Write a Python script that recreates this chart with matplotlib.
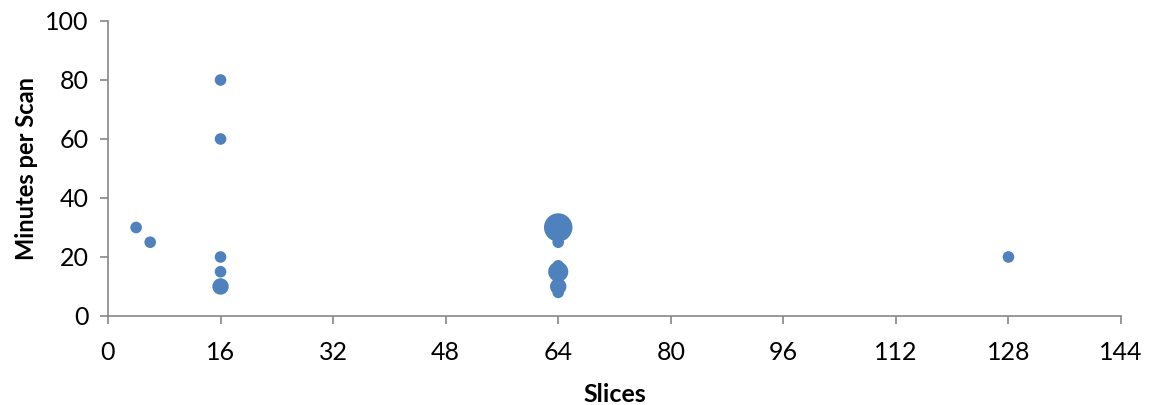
import matplotlib
matplotlib.use('Agg')
import matplotlib.pyplot as plt

# slices per scanner, minutes per scan, number of sites (bubble size)
slices = [4, 6, 16, 16, 16, 16, 16, 64, 64, 64, 64, 64, 64, 128]
minutes = [30, 25, 80, 60, 20, 15, 10, 30, 25, 17, 15, 10, 8, 20]
sites = [1, 1, 1, 1, 1, 1, 2, 6, 1, 1, 3, 2, 1, 1]

x_ticks = [0, 16, 32, 48, 64, 80, 96, 112, 128, 144]
y_ticks = [0, 20, 40, 60, 80, 100]

plt.rcParams['font.family'] = ['Lato', 'DejaVu Sans']

fig = plt.figure(figsize=(11.5, 4.05), dpi=100)
ax = fig.add_axes([0.0939, 0.2198, 0.8809, 0.7284])

ax.scatter(slices, minutes, s=[70 * n for n in sites], color='#4F81BD',
           edgecolors='none', zorder=3, clip_on=False)

ax.set_xlim(0, 144)
ax.set_ylim(0, 100)
ax.set_xticks(x_ticks)
ax.set_yticks(y_ticks)

axis_grey = '#868686'
for side in ['top', 'right']:
    ax.spines[side].set_visible(False)
for side in ['left', 'bottom']:
    ax.spines[side].set_color(axis_grey)
    ax.spines[side].set_linewidth(1.2)
ax.tick_params(axis='both', direction='out', length=6, width=1.2,
               color=axis_grey, labelsize=18, labelcolor='black')
ax.tick_params(axis='x', pad=12)
ax.tick_params(axis='y', pad=8)

ax.set_xlabel('Slices', fontsize=18, fontweight='bold', labelpad=14)
ax.set_ylabel('Minutes per Scan', fontsize=17, fontweight='bold', labelpad=5)

fig.savefig('out.png', dpi=100)
